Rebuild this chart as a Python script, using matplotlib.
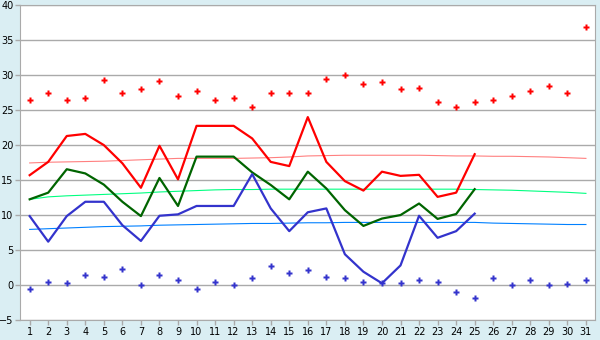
"""
Daily temperatures for one month against the normals.
"""
from matplotlib import pyplot as plt
import numpy as np

days = list(range(1, 32))

# record max / record min per day (scatter)
record_max = [26.5, 27.5, 26.5, 26.7, 29.3, 27.4, 27.95, 29.1, 26.95, 27.7,
              26.5, 26.7, 25.4, 27.5, 27.5, 27.5, 29.4, 29.95, 28.8, 28.95,
              27.95, 28.1, 26.1, 25.5, 26.2, 26.4, 26.95, 27.8, 28.5, 27.5, 36.95]
record_min = [-0.5, 0.4, 0.25, 1.4, 1.1, 2.25, 0.0, 1.4, 0.67, -0.5,
              0.4, 0.0, 0.95, 2.67, 1.67, 2.1, 1.1, 0.95, 0.4, 0.25,
              0.25, 0.67, 0.4, -1.05, -1.9, 0.95, 0.0, 0.67, 0.0, 0.1, 0.67]

# current month, days 1..25
t_max = [15.7, 17.6, 21.3, 21.6, 20.0, 17.4, 13.9, 19.9, 15.1, 22.75,
         22.75, 22.75, 20.95, 17.6, 17.0, 24.0, 17.6, 14.85, 13.5, 16.2,
         15.6, 15.75, 12.6, 13.2, 18.7]
t_avg = [12.25, 13.2, 16.55, 15.95, 14.35, 11.9, 9.85, 15.3, 11.3, 18.35,
         18.35, 18.35, 16.1, 14.3, 12.25, 16.2, 13.8, 10.7, 8.45, 9.5,
         10.0, 11.65, 9.45, 10.15, 13.7]
t_min = [9.85, 6.2, 9.85, 11.9, 11.9, 8.55, 6.3, 9.9, 10.1, 11.3,
         11.3, 11.3, 15.85, 10.95, 7.7, 10.4, 10.95, 4.4, 1.9, 0.25,
         2.8, 9.9, 6.75, 7.7, 10.2]

# normals
norm_max = [17.45, 17.55, 17.6, 17.65, 17.7, 17.8, 17.9, 18.0, 18.1, 18.1,
            18.1, 18.1, 18.15, 18.2, 18.3, 18.45, 18.5, 18.55, 18.55, 18.55,
            18.55, 18.55, 18.5, 18.45, 18.45, 18.4, 18.4, 18.35, 18.3, 18.2, 18.1]
norm_avg = [12.25, 12.6, 12.75, 12.85, 12.95, 13.05, 13.15, 13.3, 13.4, 13.5,
            13.6, 13.65, 13.65, 13.7, 13.7, 13.7, 13.7, 13.7, 13.7, 13.7,
            13.7, 13.7, 13.7, 13.7, 13.65, 13.6, 13.55, 13.45, 13.35, 13.25, 13.1]
norm_min = [7.95, 8.05, 8.15, 8.25, 8.35, 8.4, 8.45, 8.55, 8.6, 8.65,
            8.7, 8.75, 8.8, 8.8, 8.85, 8.9, 8.9, 8.95, 8.95, 8.95,
            8.95, 8.95, 8.95, 8.95, 8.95, 8.85, 8.8, 8.75, 8.7, 8.65, 8.65]

fig = plt.figure(figsize=(6, 3.4), dpi=100, facecolor='#daeef3')
ax = fig.add_axes([0.034, 0.0588, 0.958, 0.926])
ax.set_facecolor('white')

d25 = days[:len(t_max)]
ax.plot(days, norm_max, color='#ff8080', lw=0.8, zorder=2)
ax.plot(days, norm_avg, color='#00ff80', lw=0.8, zorder=2)
ax.plot(days, norm_min, color='#0080ff', lw=0.8, zorder=2)
ax.plot(d25, t_max, color='#ff0000', lw=1.6, zorder=3)
ax.plot(d25, t_avg, color='#006400', lw=1.6, zorder=3)
ax.plot(d25, t_min, color='#3333cc', lw=1.6, zorder=3)
ax.plot(days, record_max, ls='none', marker='P', ms=4.5, color='#ff0000',
        mec='none', zorder=4)
ax.plot(days, record_min, ls='none', marker='P', ms=4.5, color='#3333cc',
        mec='none', zorder=4)

ax.set_xlim(0.5, 31.5)
ax.set_ylim(-5, 40)
ax.set_xticks(days)
ax.set_yticks(np.arange(-5, 41, 5))
ax.yaxis.grid(True, color='#aaaaaa', lw=1)
ax.set_axisbelow(True)
for s in ax.spines.values():
    s.set_color('#aaaaaa')
ax.tick_params(axis='both', colors='#aaaaaa', labelcolor='black',
               labelsize=7, length=3.5, width=1, pad=1.5)

fig.savefig('out.png', dpi=100, facecolor=fig.get_facecolor())
